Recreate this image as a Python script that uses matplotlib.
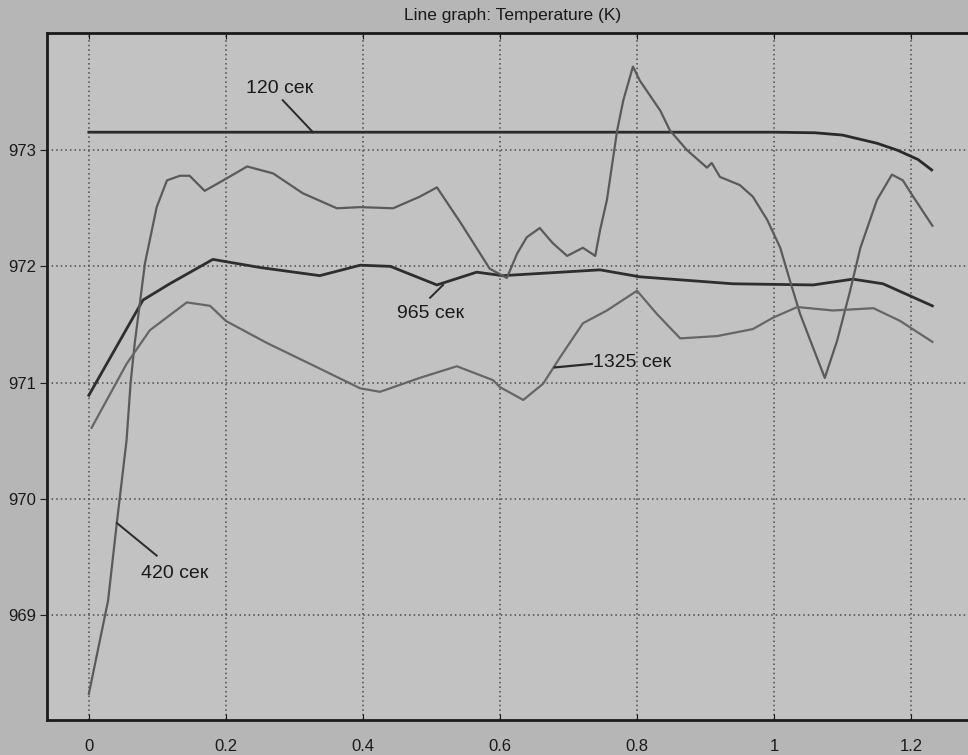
import matplotlib
matplotlib.use("Agg")
import matplotlib.pyplot as plt

plt.rcParams['font.family'] = ['Liberation Sans', 'DejaVu Sans']

# 120 сек
x120 = [0.0, 0.2, 0.4, 0.6, 0.8, 1.0, 1.06, 1.1, 1.15, 1.18, 1.21, 1.23]
y120 = [973.155, 973.155, 973.155, 973.155, 973.155, 973.155, 973.15, 973.13, 973.06, 973.0, 972.92, 972.83]

# 420 сек
x420 = [0.0, 0.028, 0.041, 0.055, 0.061, 0.067, 0.082, 0.099, 0.114, 0.133, 0.147, 0.169, 0.196,
        0.231, 0.269, 0.312, 0.362, 0.396, 0.444, 0.483, 0.508, 0.542, 0.585, 0.61, 0.625,
        0.639, 0.658, 0.677, 0.698, 0.721, 0.739, 0.746, 0.756, 0.771, 0.78, 0.794, 0.804,
        0.834, 0.848, 0.873, 0.902, 0.909, 0.921, 0.95, 0.969, 0.99, 1.009, 1.023, 1.038,
        1.053, 1.074, 1.092, 1.111, 1.126, 1.15, 1.172, 1.188, 1.203, 1.231]
y420 = [968.32, 969.12, 969.8, 970.5, 971.0, 971.34, 972.03, 972.51, 972.74, 972.78, 972.78, 972.65, 972.74,
        972.86, 972.8, 972.63, 972.5, 972.51, 972.5, 972.6, 972.68, 972.38, 971.98, 971.9, 972.11,
        972.25, 972.33, 972.2, 972.09, 972.16, 972.09, 972.31, 972.57, 973.17, 973.43, 973.72, 973.6,
        973.34, 973.17, 973.0, 972.85, 972.89, 972.77, 972.7, 972.6, 972.4, 972.16, 971.88, 971.59,
        971.36, 971.04, 971.36, 971.79, 972.16, 972.57, 972.79, 972.74, 972.6, 972.35]

# 965 сек
x965 = [0.0, 0.079, 0.118, 0.181, 0.25, 0.337, 0.396, 0.44, 0.508, 0.566, 0.604, 0.746,
        0.804, 0.94, 1.057, 1.115, 1.159, 1.231]
y965 = [970.89, 971.71, 971.85, 972.06, 971.99, 971.92, 972.01, 972.0, 971.84, 971.95, 971.92, 971.97,
        971.91, 971.85, 971.84, 971.89, 971.85, 971.66]

# 1325 сек
x1325 = [0.004, 0.055, 0.089, 0.143, 0.177, 0.2, 0.26, 0.323, 0.396, 0.425, 0.483, 0.537,
         0.59, 0.6, 0.634, 0.663, 0.688, 0.721, 0.756, 0.8, 0.829, 0.863, 0.917, 0.969,
         0.999, 1.034, 1.086, 1.145, 1.184, 1.231]
y1325 = [970.61, 971.16, 971.45, 971.69, 971.66, 971.53, 971.34, 971.16, 970.95, 970.92, 971.04, 971.14,
         971.02, 970.96, 970.85, 970.99, 971.22, 971.51, 971.62, 971.79, 971.59, 971.38, 971.40, 971.46,
         971.56, 971.65, 971.62, 971.64, 971.53, 971.35]

xticks = [0, 0.2, 0.4, 0.6, 0.8, 1.0, 1.2]
xticklabels = ['0', '0.2', '0.4', '0.6', '0.8', '1', '1.2']
yticks = [969, 970, 971, 972, 973]

fig = plt.figure(figsize=(9.68, 7.55), dpi=100, facecolor='#b6b6b6')
ax = fig.add_axes([0.0486, 0.0464, 0.9514, 0.9099], facecolor='#c2c2c2')

ax.plot(x120, y120, color='#2a2a2a', lw=2)
ax.plot(x965, y965, color='#2e2e2e', lw=2)
ax.plot(x420, y420, color='#5a5a5a', lw=1.6)
ax.plot(x1325, y1325, color='#666666', lw=1.6)

ax.set_xlim(-0.061, 1.283)
ax.set_ylim(968.095, 974.009)
ax.set_xticks(xticks)
ax.set_xticklabels(xticklabels)
ax.set_yticks(yticks)
ax.grid(True, linestyle=(0, (1, 2)), color='#4a4a4a', lw=1.1)
ax.tick_params(axis='x', direction='in', length=4, top=True, labelsize=12, pad=14, colors='#1a1a1a')
ax.tick_params(axis='y', direction='out', length=5, labelsize=12, pad=3, colors='#1a1a1a')
for s in ['left', 'bottom', 'top']:
    ax.spines[s].set_linewidth(2)
    ax.spines[s].set_color('#1a1a1a')
ax.spines['right'].set_visible(False)

fig.text(0.529, 0.979, 'Line graph: Temperature (K)', ha='center', va='center', fontsize=12.5, color='#1a1a1a')

# curve labels with leader lines
ax.text(0.279, 973.53, '120 сек', ha='center', va='center', fontsize=14, color='#1a1a1a')
ax.plot([0.283, 0.327], [973.43, 973.155], color='#2a2a2a', lw=1.4)
ax.text(0.498, 971.59, '965 сек', ha='center', va='center', fontsize=14, color='#1a1a1a')
ax.plot([0.498, 0.517], [971.73, 971.84], color='#2a2a2a', lw=1.4)
ax.text(0.736, 971.17, '1325 сек', ha='left', va='center', fontsize=14, color='#1a1a1a')
ax.plot([0.680, 0.734], [971.13, 971.16], color='#2a2a2a', lw=1.6)
ax.text(0.125, 969.36, '420 сек', ha='center', va='center', fontsize=14, color='#1a1a1a')
ax.plot([0.041, 0.099], [969.79, 969.51], color='#2a2a2a', lw=1.4)

fig.savefig('out.png', dpi=100, facecolor=fig.get_facecolor())
